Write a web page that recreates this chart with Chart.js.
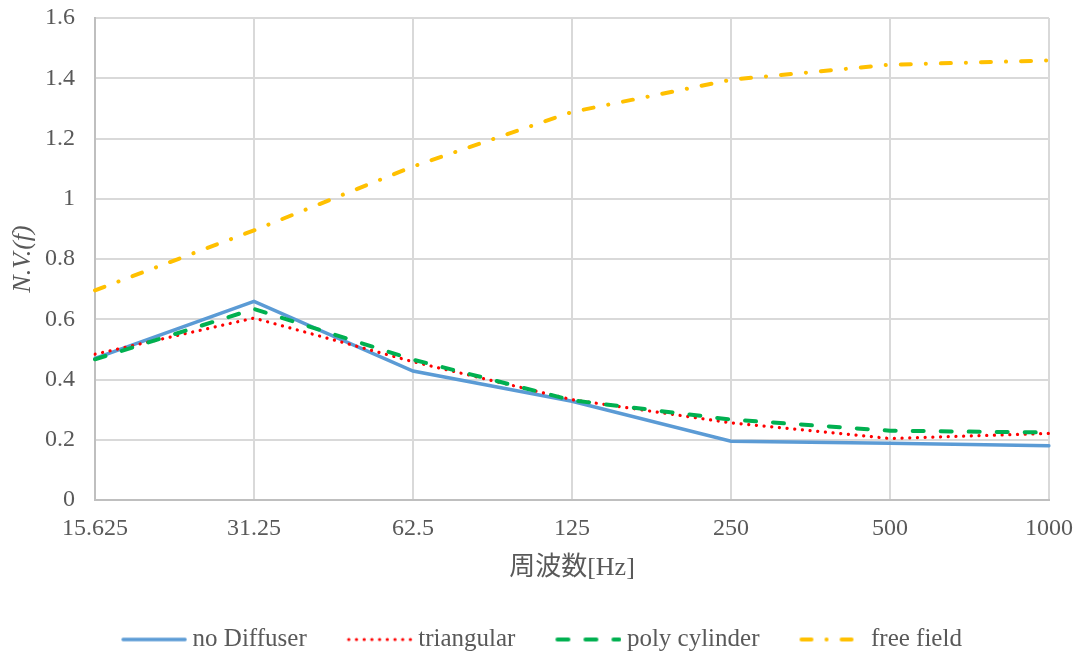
<!DOCTYPE html>
<html>
<head>
<meta charset="utf-8">
<script src="https://cdn.jsdelivr.net/npm/chart.js@4/dist/chart.umd.min.js"></script>
<style>
  html, body { margin: 0; padding: 0; background: #fff; }
  #wrap { width: 1083px; height: 655px; }
</style>
</head>
<body>
<div id="wrap"><canvas id="chart"></canvas></div>
<script>
// ─────────────────────────────────────────────
// data
// ─────────────────────────────────────────────
const FREQ_LABELS = ["15.625", "31.25", "62.5", "125", "250", "500", "1000"];

const NO_DIFFUSER   = [0.470, 0.659, 0.428, 0.328, 0.195, 0.188, 0.180];
const TRIANGULAR    = [0.484, 0.604, 0.459, 0.333, 0.256, 0.204, 0.221];
const POLY_CYLINDER = [0.467, 0.634, 0.466, 0.331, 0.267, 0.230, 0.224];
const FREE_FIELD    = [0.696, 0.895, 1.107, 1.288, 1.395, 1.445, 1.459];

const SERIES_NAMES = ["no Diffuser", "triangular", "poly cylinder", "free field"];

const Y_MIN = 0, Y_MAX = 1.6, Y_STEP = 0.2;

const FONT = "'Liberation Serif', 'Times New Roman', 'Noto Sans CJK JP', serif";
const FONT_SIZE = 24;
const TEXT_COLOR = "#595959";
const GRID_COLOR = "#d9d9d9";

// legend sample: line of 66px, text 5px after it
const SAMPLE_LINE = 66;
const SAMPLE_BOX = 59;                 // pointStyleWidth
const SAMPLE_IMG = SAMPLE_BOX + 14;    // image is centred on the box

// later series drawn on top, like the original
const datasets = [
    {
        label: SERIES_NAMES[0],
        data: NO_DIFFUSER,
        borderColor: "#5b9bd5",
        borderWidth: 3.5,
        borderCapStyle: "round",
        order: 4,
    },
    {
        label: SERIES_NAMES[1],
        data: TRIANGULAR,
        borderColor: "#ff0000",
        borderWidth: 3.2,
        borderDash: [0.1, 7.6],
        borderCapStyle: "round",
        order: 3,
    },
    {
        label: SERIES_NAMES[2],
        data: POLY_CYLINDER,
        borderColor: "#00b050",
        borderWidth: 4,
        borderDash: [11, 17],
        borderCapStyle: "round",
        order: 2,
    },
    {
        label: SERIES_NAMES[3],
        data: FREE_FIELD,
        borderColor: "#ffc000",
        borderWidth: 4,
        borderDash: [10, 15, 0.1, 15],
        borderCapStyle: "round",
        order: 1,
    },
].map(d => ({ ...d, fill: false, pointRadius: 0, pointHoverRadius: 0, tension: 0, backgroundColor: d.borderColor }));

// small canvas with the dataset's line style, used as legend sample
function legendSample(ds) {
    const c = document.createElement("canvas");
    c.width = SAMPLE_IMG;
    c.height = 8;
    const g = c.getContext("2d");
    g.strokeStyle = ds.borderColor;
    g.lineWidth = ds.borderWidth;
    g.lineCap = ds.borderCapStyle;
    g.setLineDash(ds.borderDash || []);
    g.beginPath();
    g.moveTo(SAMPLE_IMG - SAMPLE_LINE + 2, 4);
    g.lineTo(SAMPLE_IMG - 2, 4);
    g.stroke();
    return c;
}
const SAMPLES = datasets.map(legendSample);

new Chart(document.getElementById("chart"), {
    type: "line",
    data: { labels: FREQ_LABELS, datasets },
    options: {
        responsive: true,
        maintainAspectRatio: false,
        animation: false,
        // equal side padding so the legend centres on the whole canvas
        layout: { padding: { top: 18, right: 34, left: 34, bottom: -7 } },
        plugins: {
            tooltip: { enabled: false },
            legend: {
                position: "bottom",
                labels: {
                    usePointStyle: true,
                    pointStyleWidth: SAMPLE_BOX,
                    padding: 40,
                    color: TEXT_COLOR,
                    font: { family: FONT, size: 25 },
                    generateLabels: chart => {
                        const items = Chart.defaults.plugins.legend.labels.generateLabels(chart);
                        items.forEach(it => { it.pointStyle = SAMPLES[it.datasetIndex]; });
                        return items.sort((a, b) => a.datasetIndex - b.datasetIndex);
                    },
                }
            }
        },
        scales: {
            x: {
                offset: false,
                grid: { color: GRID_COLOR, lineWidth: 2, drawTicks: false },
                border: { color: "#bfbfbf", width: 2 },
                ticks: { color: TEXT_COLOR, font: { family: FONT, size: FONT_SIZE }, padding: 14, maxRotation: 0 },
                title: {
                    display: true,
                    text: "周波数[Hz]",
                    color: TEXT_COLOR,
                    font: { family: FONT, size: 26 },
                    padding: { top: 0, bottom: 3 },
                },
                afterFit: s => { s.height = 87; s.paddingLeft = 0; s.paddingRight = 0; },
            },
            y: {
                min: Y_MIN,
                max: Y_MAX,
                grid: { color: GRID_COLOR, lineWidth: 2, drawTicks: false },
                border: { color: "#bfbfbf", width: 2 },
                ticks: {
                    stepSize: Y_STEP,
                    color: TEXT_COLOR,
                    font: { family: FONT, size: FONT_SIZE },
                    padding: 20,
                    callback: v => String(Number(v.toFixed(1))),
                },
                title: {
                    display: true,
                    text: "N.V.(f)",
                    color: TEXT_COLOR,
                    font: { family: FONT, size: 26, style: "italic" },
                    padding: { top: -26, bottom: 0 },
                },
                afterFit: s => { s.width = 61; s.paddingTop = 0; s.paddingBottom = 0; },
            }
        }
    }
});
</script>
</body>
</html>
